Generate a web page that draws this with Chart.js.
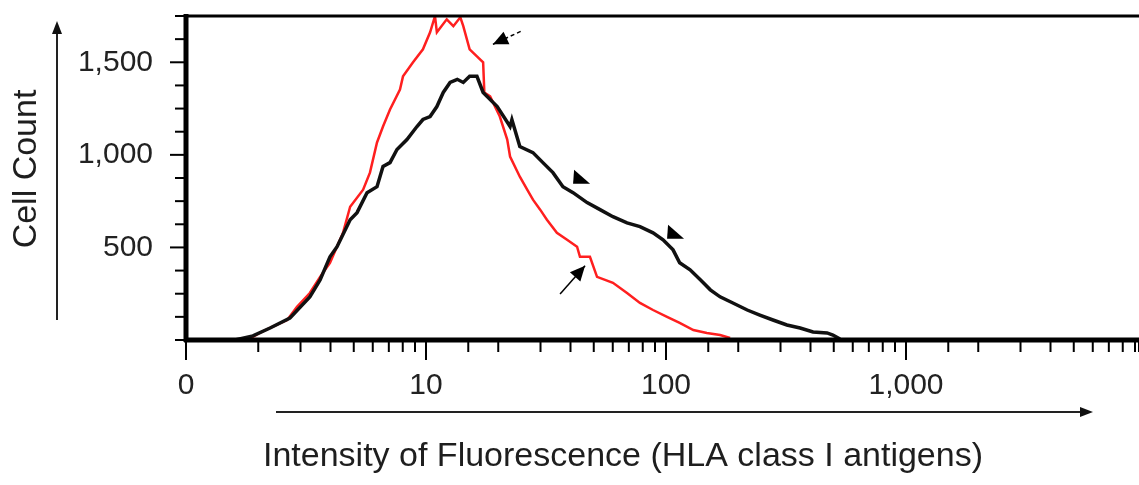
<!DOCTYPE html>
<html>
<head>
<meta charset="utf-8">
<script src="https://cdn.jsdelivr.net/npm/chart.js@4.4.1/dist/chart.umd.min.js"></script>
<style>
    html, body { margin: 0; padding: 0; background: #fff; }
    #wrap { width: 1139px; height: 485px; position: relative; }
</style>
</head>
<body>
<div id="wrap"><canvas id="histChart"></canvas></div>
<script>
// Black histogram (untreated) - intensity and cell count
const blackIntensity = [1.6, 1.9, 2.24, 2.71, 3.28, 3.62, 3.98, 4.26, 4.83, 5.16, 5.68, 6.25, 6.62, 7.08, 7.57, 8.33,
    9.17, 9.71, 10.4, 11.1, 11.8, 12.6, 13.5, 14.3, 15.2, 16.3, 17.3, 19.8, 22.4, 22.8, 24.6, 27.9, 30.7, 33.8, 37.2,
    41.0, 46.9, 53.1, 60.1, 68.8, 77.9, 88.3, 97.2, 107, 114, 126, 139, 153, 168, 190, 218, 246, 279, 319, 362, 410,
    469, 496, 531];
const blackCount = [0, 22, 65, 119, 233, 325, 449, 504, 650, 688, 796, 828, 937, 958, 1029, 1083,
    1153, 1191, 1207, 1261, 1337, 1391, 1408, 1391, 1424, 1424, 1337, 1261, 1153, 1190, 1045, 1012, 958, 904, 828,
    796, 742, 704, 666, 633, 612, 579, 541, 487, 417, 379, 325, 271, 233, 200, 162, 135, 108, 81, 65, 43,
    38, 27, 5];

// Red histogram (treated)
const redIntensity = [1.8, 2.03, 2.24, 2.64, 2.9, 3.28, 3.62, 3.98, 4.51, 4.83, 5.47, 5.84, 6.25, 6.62, 7.08, 7.79,
    8.02, 8.83, 9.71, 10.4, 10.9, 11.1, 12.2, 13.0, 13.9, 14.3, 15.2, 16.3, 17.3, 17.5, 18.5, 20.3, 21.8, 22.4, 24.6,
    26.4, 27.9, 29.9, 31.9, 35.1, 38.7, 42.6, 43.8, 48.2, 51.6, 60.1, 68.8, 77.9, 88.3, 101, 114, 130, 148, 168, 185];
const redCount = [0, 38, 65, 108, 179, 254, 341, 417, 579, 720, 812, 904, 1067, 1153, 1245, 1353,
    1424, 1500, 1570, 1662, 1749, 1662, 1732, 1695, 1743, 1695, 1570, 1532, 1500, 1337, 1316, 1207, 1083, 991, 882,
    812, 758, 704, 650, 579, 541, 504, 449, 449, 341, 309, 254, 200, 162, 125, 92, 54, 38, 27, 11];

// Axis ranges and tick labels
const xMin = 1, xMax = 9350;
const yMin = 0, yMax = 1750, yStep = 125;
const xTickLabels = { 1: '0', 10: '10', 100: '100', 1000: '1,000' };
const yTickLabels = [500, 1000, 1500];

// Small arrows / arrowheads pointing at the curves (data units)
const markerType = ['dashArrow', 'wedge', 'wedge', 'arrow'];
const markerTipX = [19.0, 41.4, 102, 46.0];
const markerTipY = [1597, 920, 623, 401];
const markerTailX = [24.8, null, null, 36.2];
const markerTailY = [1667, null, null, 249];

const toPoints = (xs, ys) => xs.map((x, i) => ({ x: x, y: ys[i] }));

// keep the plot box where the original has it
function pinBox(scale, size) {
    if (scale.isHorizontal()) scale.height = size; else scale.width = size;
    scale.paddingTop = 0;
    scale.paddingBottom = 0;
    scale.paddingLeft = 0;
    scale.paddingRight = 0;
}

function arrowHead(ctx, tipX, tipY, fromX, fromY, len, half) {
    const ang = Math.atan2(tipY - fromY, tipX - fromX);
    ctx.beginPath();
    ctx.moveTo(tipX, tipY);
    ctx.lineTo(tipX - len * Math.cos(ang) + half * Math.sin(ang), tipY - len * Math.sin(ang) - half * Math.cos(ang));
    ctx.lineTo(tipX - len * Math.cos(ang) - half * Math.sin(ang), tipY - len * Math.sin(ang) + half * Math.cos(ang));
    ctx.closePath();
    ctx.fill();
}

// Frame, tick marks, axis titles with their arrows, and the pointer marks
const decorPlugin = {
    id: 'decor',
    afterDatasetsDraw(chart) {
        const { ctx, chartArea: area, scales: { x, y } } = chart;
        ctx.save();
        ctx.strokeStyle = '#000';
        ctx.fillStyle = '#000';

        // frame: thin top, heavy left and bottom
        ctx.lineWidth = 3;
        ctx.beginPath();
        ctx.moveTo(area.left, area.top);
        ctx.lineTo(area.right, area.top);
        ctx.stroke();
        ctx.lineWidth = 5;
        ctx.beginPath();
        ctx.moveTo(area.left, area.top - 2);
        ctx.lineTo(area.left, area.bottom + 2);
        ctx.moveTo(area.left - 2, area.bottom);
        ctx.lineTo(area.right, area.bottom);
        ctx.stroke();

        // y tick marks
        ctx.lineWidth = 2;
        y.ticks.forEach(t => {
            const py = y.getPixelForValue(t.value);
            const len = yTickLabels.includes(t.value) ? 14 : 9;
            ctx.beginPath();
            ctx.moveTo(area.left - 2 - len, py);
            ctx.lineTo(area.left - 2, py);
            ctx.stroke();
        });

        // x tick marks
        x.ticks.forEach(t => {
            if (t.value > x.max) return;
            const px = x.getPixelForValue(t.value);
            const len = xTickLabels[t.value] !== undefined ? 18 : 10;
            ctx.beginPath();
            ctx.moveTo(px, area.bottom + 2);
            ctx.lineTo(px, area.bottom + 2 + len);
            ctx.stroke();
        });

        // pointer marks
        markerType.forEach((type, i) => {
            const tx = x.getPixelForValue(markerTipX[i]);
            const ty = y.getPixelForValue(markerTipY[i]);
            if (type === 'wedge') {
                ctx.beginPath();
                ctx.moveTo(tx, ty);
                ctx.lineTo(tx - 1, ty + 14);
                ctx.lineTo(tx + 16, ty + 14);
                ctx.closePath();
                ctx.fill();
                return;
            }
            const fx = x.getPixelForValue(markerTailX[i]);
            const fy = y.getPixelForValue(markerTailY[i]);
            ctx.lineWidth = 1.5;
            ctx.setLineDash(type === 'dashArrow' ? [4, 3] : []);
            ctx.beginPath();
            ctx.moveTo(fx, fy);
            ctx.lineTo(tx, ty);
            ctx.stroke();
            ctx.setLineDash([]);
            arrowHead(ctx, tx, ty, fx, fy, 15, 7);
        });

        // axis titles
        ctx.fillStyle = '#1e1e1e';
        ctx.font = '34px "Liberation Sans", Arial, sans-serif';
        ctx.textAlign = 'center';
        ctx.textBaseline = 'middle';
        ctx.fillText('Intensity of Fluorescence (HLA class I antigens)', 623, 457);
        ctx.save();
        ctx.translate(27, 169);
        ctx.rotate(-Math.PI / 2);
        ctx.fillText('Cell Count', 0, 0);
        ctx.restore();

        // long arrows beside the titles
        ctx.strokeStyle = '#222';
        ctx.fillStyle = '#111';
        ctx.lineWidth = 2;
        ctx.beginPath();
        ctx.moveTo(57, 320);
        ctx.lineTo(57, 32);
        ctx.moveTo(276, 412);
        ctx.lineTo(1082, 412);
        ctx.stroke();
        arrowHead(ctx, 57, 21, 57, 40, 13, 5);
        arrowHead(ctx, 1093, 412, 1070, 412, 13, 5);

        ctx.restore();
    }
};

const ctx = document.getElementById('histChart').getContext('2d');
new Chart(ctx, {
    type: 'line',
    data: {
        datasets: [{
            label: 'Control',
            data: toPoints(blackIntensity, blackCount),
            borderColor: '#111',
            borderWidth: 3.5,
            pointRadius: 0,
            tension: 0,
            fill: false
        }, {
            label: 'Treated',
            data: toPoints(redIntensity, redCount),
            borderColor: '#ff1f1f',
            borderWidth: 2.5,
            pointRadius: 0,
            tension: 0,
            fill: false
        }]
    },
    options: {
        responsive: true,
        maintainAspectRatio: false,
        animation: false,
        layout: { padding: { top: 16, right: 0, left: 0, bottom: 0 } },
        plugins: {
            legend: { display: false },
            tooltip: { enabled: false }
        },
        scales: {
            x: {
                type: 'logarithmic',
                min: xMin,
                max: xMax,
                afterFit: scale => pinBox(scale, 145),
                grid: { display: false, drawTicks: false },
                border: { display: false },
                ticks: {
                    autoSkip: false,
                    maxRotation: 0,
                    padding: 28,
                    color: '#222',
                    font: { family: '"Liberation Sans", Arial, sans-serif', size: 30 },
                    callback: v => xTickLabels[v] !== undefined ? xTickLabels[v] : ''
                }
            },
            y: {
                min: yMin,
                max: yMax,
                afterFit: scale => pinBox(scale, 186),
                grid: { display: false, drawTicks: false },
                border: { display: false },
                ticks: {
                    stepSize: yStep,
                    maxTicksLimit: 30,
                    autoSkip: false,
                    padding: 33,
                    color: '#222',
                    font: { family: '"Liberation Sans", Arial, sans-serif', size: 30 },
                    callback: v => yTickLabels.includes(v) ? v.toLocaleString('en-US') : ''
                }
            }
        }
    },
    plugins: [decorPlugin]
});
</script>
</body>
</html>
